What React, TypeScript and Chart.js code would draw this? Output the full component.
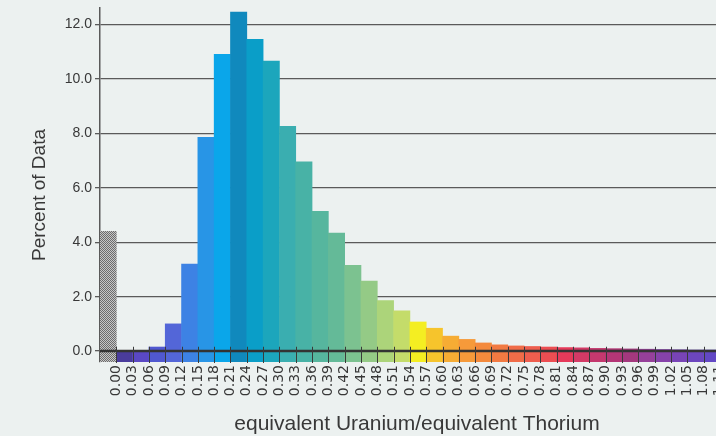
import { useEffect, useRef } from "react";
import { Chart, registerables } from "chart.js";

Chart.register(...registerables);

// Left edge of each histogram bin (first bin = values below zero, drawn in gray)
const binStarts = [
  -0.03, 0.0, 0.03, 0.06, 0.09, 0.12, 0.15, 0.18, 0.21, 0.24, 0.27, 0.3, 0.33,
  0.36, 0.39, 0.42, 0.45, 0.48, 0.51, 0.54, 0.57, 0.6, 0.63, 0.66, 0.69, 0.72,
  0.75, 0.78, 0.81, 0.84, 0.87, 0.9, 0.93, 0.96, 0.99, 1.02, 1.05, 1.08, 1.11,
];
const percentValues = [
  4.4, 0.0, 0.0, 0.15, 1.0, 3.2, 7.85, 10.9, 12.45, 11.45, 10.65, 8.25, 6.95,
  5.13, 4.33, 3.15, 2.57, 1.86, 1.48, 1.07, 0.84, 0.55, 0.43, 0.3, 0.23, 0.19,
  0.17, 0.15, 0.13, 0.12, 0.1, 0.09, 0.08, 0.07, 0.06, 0.05, 0.04, 0.04, 0.03,
];
const binColors = [
  "GRAY", "#4a3c9c", "#5a48c4", "#5058d0", "#5366d8", "#3d82e4", "#2895e6",
  "#0aa6ea", "#1089bd", "#0a9ec8", "#1ca6bc", "#3aaeb0", "#48b2a6", "#56b69e",
  "#64ba98", "#7cc290", "#94ca86", "#acd47a", "#c4dc6a", "#f4ee22", "#f6c42c",
  "#f6ac34", "#f69a3a", "#f48a3c", "#f27a42", "#f06c48", "#ee5e4e", "#ec4e52",
  "#e63a5a", "#d43a66", "#c4386e", "#b43676", "#a4387e", "#96409a", "#8642aa",
  "#7844b6", "#6c46be", "#6248c4", "#5a48c4",
];
const xTickLabels = [
  "0.00", "0.03", "0.06", "0.09", "0.12", "0.15", "0.18", "0.21", "0.24",
  "0.27", "0.30", "0.33", "0.36", "0.39", "0.42", "0.45", "0.48", "0.51",
  "0.54", "0.57", "0.60", "0.63", "0.66", "0.69", "0.72", "0.75", "0.78",
  "0.81", "0.84", "0.87", "0.90", "0.93", "0.96", "0.99", "1.02", "1.05",
  "1.08", "1.11", "1.14",
];
const yTickLabels = ["0.0", "2.0", "4.0", "6.0", "8.0", "10.0", "12.0"];
const xTitle = "equivalent Uranium/equivalent Thorium";
const yTitle = "Percent of Data";

const BIN_WIDTH = 0.03;
const TEXT = "#383838";
const GRID = "#5a5a5a";
const PAPER = "#ecf1f0";

export default function App() {
  const ref = useRef<HTMLCanvasElement | null>(null);

  useEffect(() => {
    const canvas = ref.current;
    if (!canvas) return;

    // halftone-like gray pattern for the below-zero bin
    const pc = document.createElement("canvas");
    pc.width = 2;
    pc.height = 2;
    const pctx = pc.getContext("2d")!;
    pctx.fillStyle = "#c6c6c6";
    pctx.fillRect(0, 0, 2, 2);
    pctx.fillStyle = "#6c6c6c";
    pctx.fillRect(0, 0, 1, 1);
    pctx.fillRect(1, 1, 1, 1);
    const grayPattern = canvas.getContext("2d")!.createPattern(pc, "repeat");

    const colors = binColors.map((c) => (c === "GRAY" ? grayPattern : c));
    const points = binStarts.map((s, i) => ({ x: s + BIN_WIDTH / 2, y: percentValues[i] }));

    const overlay = {
      id: "overlay",
      afterDatasetsDraw(chart: any) {
        const { ctx, chartArea, scales } = chart;
        const x = scales.x;
        const y = scales.y;
        const y0 = y.getPixelForValue(0);
        ctx.save();
        ctx.strokeStyle = "#333";
        ctx.lineWidth = 2.5;
        ctx.beginPath();
        ctx.moveTo(chartArea.left, y0);
        ctx.lineTo(chartArea.right, y0);
        ctx.stroke();
        ctx.lineWidth = 1;
        ctx.strokeStyle = "#3a3a3a";
        ctx.beginPath();
        x.ticks.forEach((_t: any, i: number) => {
          const px = Math.round(x.getPixelForTick(i)) + 0.5;
          ctx.moveTo(px, y.getPixelForValue(0.16));
          ctx.lineTo(px, chartArea.bottom + 1);
        });
        ctx.stroke();
        ctx.restore();
      },
      afterDraw(chart: any) {
        const { ctx } = chart;
        ctx.save();
        ctx.fillStyle = TEXT;
        ctx.font = "19px 'Liberation Sans'";
        ctx.textAlign = "center";
        ctx.textBaseline = "middle";
        ctx.translate(40, 195);
        ctx.rotate(-Math.PI / 2);
        ctx.fillText(yTitle, 0, 0);
        ctx.restore();
        ctx.save();
        ctx.fillStyle = TEXT;
        ctx.font = "21px 'Liberation Sans'";
        ctx.textAlign = "center";
        ctx.textBaseline = "alphabetic";
        ctx.fillText(xTitle, 417, 430);
        ctx.restore();
      },
    };

    const chart = new Chart(canvas, {
      type: "bar",
      data: {
        datasets: [
          {
            data: points as any,
            backgroundColor: colors as any,
            borderWidth: 0,
            barPercentage: 1,
            categoryPercentage: 1,
            base: -0.4,
          } as any,
        ],
      },
      options: {
        responsive: false,
        animation: false,
        devicePixelRatio: 1,
        layout: { padding: { top: 8, left: 0, right: 0, bottom: 0 } },
        plugins: { legend: { display: false }, tooltip: { enabled: false } },
        scales: {
          x: {
            type: "linear",
            offset: false,
            min: -0.03,
            max: 1.16,
            afterBuildTicks: (scale: any) => {
              scale.ticks = xTickLabels.map((l) => ({ value: parseFloat(l) }));
            },
            afterFit: (scale: any) => {
              scale.height = 74;
              scale.paddingLeft = 0;
              scale.paddingRight = 0;
            },
            grid: { display: false, drawTicks: false, offset: false },
            border: { display: false },
            ticks: {
              autoSkip: false,
              maxRotation: 90,
              minRotation: 90,
              padding: 3,
              color: TEXT,
              font: { family: "'DejaVu Sans'", size: 14 },
              callback: (v: any) => {
                const idx = xTickLabels.findIndex((l) => Math.abs(parseFloat(l) - v) < 1e-6);
                return idx >= 0 ? xTickLabels[idx] : "";
              },
            },
          },
          y: {
            type: "linear",
            min: -0.4,
            max: 12.6,
            afterBuildTicks: (scale: any) => {
              scale.ticks = yTickLabels.map((l) => ({ value: parseFloat(l) }));
            },
            afterFit: (scale: any) => {
              scale.width = 100;
              scale.paddingTop = 0;
              scale.paddingBottom = 0;
            },
            grid: {
              color: GRID,
              lineWidth: 1.3,
              drawTicks: true,
              tickLength: 5,
              tickColor: GRID,
            },
            border: { display: true, color: GRID, width: 1.5 },
            ticks: {
              padding: 3,
              color: TEXT,
              font: { family: "'Liberation Sans'", size: 14 },
              callback: (v: any) => Number(v).toFixed(1),
            },
          },
        },
      },
      plugins: [overlay],
    });

    return () => chart.destroy();
  }, []);

  return (
    <div
      style={{
        position: "absolute",
        left: 0,
        top: 0,
        width: 716,
        height: 436,
        overflow: "hidden",
        background: PAPER,
      }}
    >
      <canvas ref={ref} width={747} height={436} style={{ display: "block" }} />
    </div>
  );
}
